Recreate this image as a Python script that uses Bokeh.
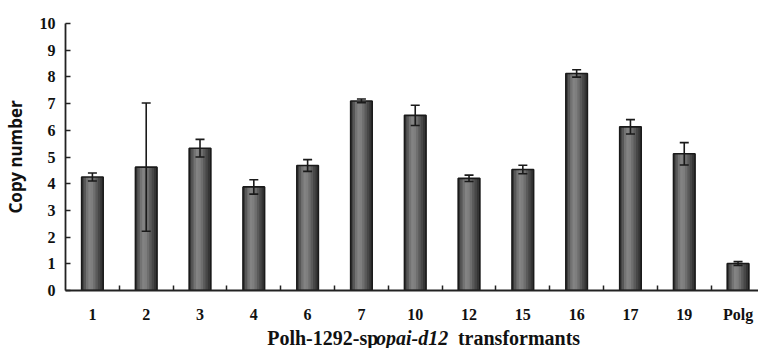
from bokeh.plotting import figure
from bokeh.layouts import column
from bokeh.models import Range1d, FixedTicker, ColumnDataSource, Whisker
from bokeh.core.properties import value
from bokeh.transform import dodge
from bokeh.embed import file_html
from bokeh.resources import INLINE

# ---- data ----
categories = ["1", "2", "3", "4", "6", "7", "10", "12", "15", "16", "17", "19", "Polg"]
copy_number = [4.25, 4.62, 5.33, 3.88, 4.68, 7.10, 6.56, 4.20, 4.53, 8.13, 6.13, 5.12, 1.01]
error = [0.15, 2.40, 0.33, 0.27, 0.22, 0.07, 0.38, 0.12, 0.16, 0.14, 0.27, 0.42, 0.07]
y_ticks = [0, 1, 2, 3, 4, 5, 6, 7, 8, 9, 10]
x_title_parts = ["Polh-1292-sp", "opai-d12", "transformants"]
x_title_styles = ["bold", "bold italic", "bold"]

positions = [i + 0.5 for i in range(len(categories))]
boundaries = [i for i in range(1, len(categories))]
lower = [v - e for v, e in zip(copy_number, error)]
upper = [v + e for v, e in zip(copy_number, error)]

src = ColumnDataSource(dict(x=positions, top=copy_number, lower=lower, upper=upper))

p = figure(width=758, height=325, output_backend="svg", toolbar_location=None,
           x_range=Range1d(0, 12.88), y_range=Range1d(0, 10),
           min_border_left=64, min_border_right=0, min_border_top=23, min_border_bottom=35)
p.outline_line_color = None
p.xgrid.visible = False
p.ygrid.visible = False
p.background_fill_color = "white"
p.border_fill_color = "white"

# gradient-like bars made of thin overlapping strips
bar_w = 0.4
strip_colors = ["#383838", "#575757", "#737373", "#838383", "#7e7e7e", "#6e6e6e",
                "#5a5a5a", "#474747", "#353535"]
n = len(strip_colors)
sw = bar_w / n
for k, c in enumerate(strip_colors):
    off = -bar_w / 2 + sw * (k + 0.5)
    p.vbar(x=dodge("x", off), top="top", bottom=0, width=sw * 1.4, source=src,
           fill_color=c, line_color=None)
p.vbar(x="x", top="top", bottom=0, width=bar_w, source=src,
       fill_color=None, line_color="#1a1a1a", line_width=1.6)

wh = Whisker(base="x", lower="lower", upper="upper", source=src,
             line_color="#1a1a1a", line_width=1.6, level="overlay")
for head in (wh.upper_head, wh.lower_head):
    head.size = 9
    head.line_color = "#1a1a1a"
    head.line_width = 1.6
p.add_layout(wh)

# axes
xa = p.xaxis[0]
xa.ticker = FixedTicker(ticks=positions, minor_ticks=boundaries)
xa.major_label_overrides = {pos: c for pos, c in zip(positions, categories)}
xa.major_tick_in = 0
xa.major_tick_out = 0
xa.minor_tick_in = 5
xa.minor_tick_out = 0
xa.minor_tick_line_width = 1.5
xa.axis_line_width = 1.8
xa.axis_line_color = "#222222"
xa.minor_tick_line_color = "#222222"
xa.major_label_standoff = 15
xa.major_label_text_font = "Liberation Serif"
xa.major_label_text_font_style = "bold"
xa.major_label_text_font_size = "16px"
xa.major_label_text_color = "#111111"

ya = p.yaxis[0]
ya.ticker = FixedTicker(ticks=y_ticks)
ya.major_tick_in = 5
ya.major_tick_out = 0
ya.minor_tick_in = 0
ya.minor_tick_out = 0
ya.major_tick_line_width = 1.5
ya.axis_line_width = 1.8
ya.axis_line_color = "#222222"
ya.major_tick_line_color = "#222222"
ya.major_label_standoff = 10
ya.major_label_text_font = "Liberation Serif"
ya.major_label_text_font_style = "bold"
ya.major_label_text_font_size = "16px"
ya.major_label_text_color = "#111111"
ya.axis_label = "Copy number"
ya.axis_label_text_font = "Noto Sans"
ya.axis_label_text_font_style = "bold"
ya.axis_label_text_font_size = "17px"
ya.axis_label_text_color = "#111111"
ya.axis_label_standoff = 10

# x title strip with mixed styles (pixel-coordinate text panel, frame aligned with the chart)
t = figure(width=758, height=23, output_backend="svg", toolbar_location=None,
           x_range=Range1d(64, 758), y_range=Range1d(0, 23),
           x_axis_location=None, y_axis_location=None,
           min_border_left=64, min_border_right=0, min_border_top=0, min_border_bottom=0)
t.outline_line_color = None
t.xgrid.visible = False
t.ygrid.visible = False
title_x = [266, 375, 457]
for txt, style, xs in zip(x_title_parts, x_title_styles, title_x):
    t.text(x=[xs], y=[11], text=[txt], text_font=value("Liberation Serif"),
           text_font_style=style, text_font_size="20px", text_color="#111111",
           text_baseline="alphabetic", text_align="left")

open("out.html", "w").write(file_html(column(p, t, spacing=0), INLINE))
